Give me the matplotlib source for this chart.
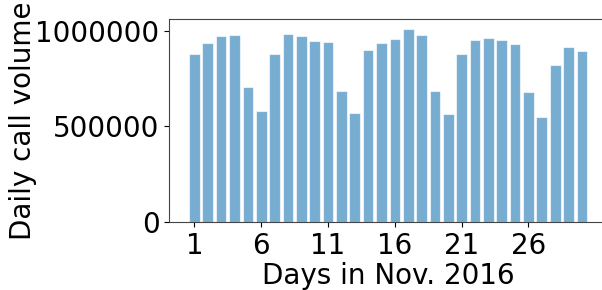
import matplotlib
matplotlib.use("Agg")
import matplotlib.pyplot as plt

days = list(range(1, 31))
volumes = [878000, 936000, 971000, 977000, 706000, 582000, 878000, 981000, 971000, 943000,
           939000, 685000, 570000, 899000, 936000, 958000, 1010000, 977000, 685000, 565000,
           878000, 950000, 962000, 953000, 932000, 678000, 547000, 822000, 915000, 894000]
xticks = [1, 6, 11, 16, 21, 26]
yticks = [0, 500000, 1000000]

fig = plt.figure(figsize=(6.02, 2.90), dpi=100)
ax = fig.add_axes([0.281, 0.2345, 0.7276, 0.70])
ax.bar(days, volumes, width=0.8, color="#1f77b4", alpha=0.6, edgecolor="white", linewidth=0.8)
ax.set_xticks(xticks)
ax.set_yticks(yticks)
ax.set_yticklabels([str(v) for v in yticks])
ax.tick_params(labelsize=20)
ax.set_xlabel("Days in Nov. 2016", fontsize=20, labelpad=2)
ax.set_ylabel("Daily call volume", fontsize=20, labelpad=-1)
for s in ax.spines.values():
    s.set_color("#444444")
fig.savefig("out.png", dpi=100)
